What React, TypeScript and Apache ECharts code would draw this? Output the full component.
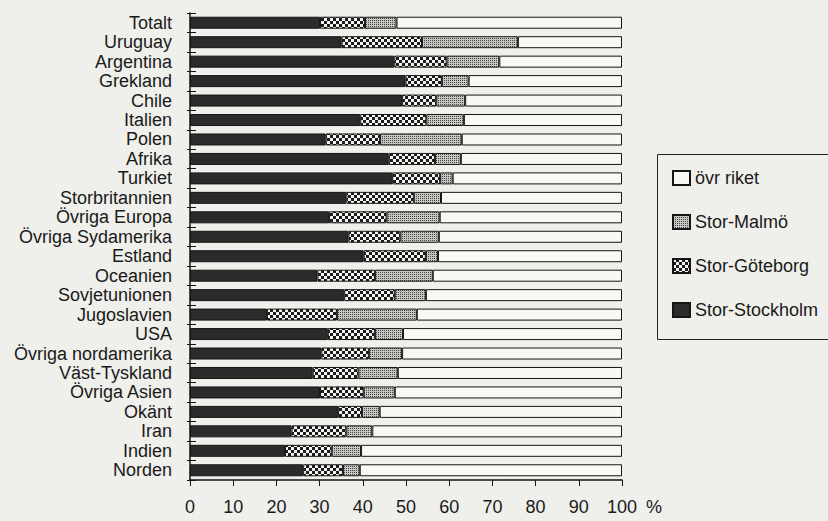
import React, { useEffect, useRef } from "react";
import * as echarts from "echarts";

const categories = [
  "Totalt", "Uruguay", "Argentina", "Grekland", "Chile", "Italien", "Polen", "Afrika",
  "Turkiet", "Storbritannien", "Övriga Europa", "Övriga Sydamerika", "Estland", "Oceanien",
  "Sovjetunionen", "Jugoslavien", "USA", "Övriga nordamerika", "Väst-Tyskland",
  "Övriga Asien", "Okänt", "Iran", "Indien", "Norden",
];

const storStockholm = [30.1, 35.1, 47.3, 49.9, 49.1, 39.4, 31.4, 46.0, 46.8, 36.2, 32.2, 36.7, 40.2, 29.5, 35.7, 17.8, 31.9, 30.4, 28.4, 30.1, 34.3, 23.5, 22.0, 26.2];
const storGoteborg = [10.4, 18.6, 12.1, 8.4, 7.9, 15.3, 12.6, 10.7, 11.1, 15.6, 13.3, 12.0, 14.4, 13.3, 11.7, 16.2, 10.9, 11.0, 10.6, 10.1, 5.5, 12.7, 10.8, 9.2];
const storMalmo = [7.3, 22.2, 12.2, 6.2, 6.7, 8.7, 18.9, 6.0, 2.9, 6.3, 12.3, 8.9, 2.8, 13.4, 7.2, 18.5, 6.5, 7.7, 9.1, 7.2, 4.1, 6.0, 6.8, 3.9];
const ovrRiket = [52.2, 24.1, 28.4, 35.5, 36.3, 36.6, 37.1, 37.3, 39.2, 41.9, 42.2, 42.4, 42.6, 43.8, 45.4, 47.5, 50.7, 50.9, 51.9, 52.6, 56.1, 57.8, 60.4, 60.7];

const xTicks = [0, 10, 20, 30, 40, 50, 60, 70, 80, 90, 100];

function makeCheck(): HTMLCanvasElement {
  const c = document.createElement("canvas");
  c.width = 6;
  c.height = 6;
  const g = c.getContext("2d")!;
  g.fillStyle = "#1c1c1c";
  g.fillRect(0, 0, 6, 6);
  g.fillStyle = "#f4f4f0";
  g.fillRect(0, 0, 3, 3);
  g.fillRect(3, 3, 3, 3);
  return c;
}

function makeStipple(): HTMLCanvasElement {
  const c = document.createElement("canvas");
  c.width = 2;
  c.height = 2;
  const g = c.getContext("2d")!;
  g.fillStyle = "#c6c6c2";
  g.fillRect(0, 0, 2, 2);
  g.fillStyle = "#444444";
  g.fillRect(0, 0, 1, 1);
  return c;
}

export default function App() {
  const ref = useRef<HTMLDivElement>(null);

  useEffect(() => {
    document.body.style.margin = "0";
    document.body.style.background = "#efefeb";
    const chart = echarts.init(ref.current!, null, { renderer: "svg" });
    const check = makeCheck();
    const stipple = makeStipple();
    const font = "'Liberation Sans', Arial, Helvetica, sans-serif";
    const textColor = "#1a1a1a";
    const border = { borderColor: "#151515", borderWidth: 1 };

    const mk = (name: string, data: number[], color: any) => ({
      name,
      type: "bar",
      stack: "all",
      barWidth: 12,
      data,
      itemStyle: { color, ...border },
      emphasis: { disabled: true },
    });

    chart.setOption({
      animation: false,
      backgroundColor: "#efefeb",
      textStyle: { fontFamily: font, color: textColor },
      grid: { left: 190, right: 206, top: 13, bottom: 41 },
      legend: {
        orient: "vertical",
        left: 672,
        top: 168,
        data: ["övr riket", "Stor-Malmö", "Stor-Göteborg", "Stor-Stockholm"],
        itemWidth: 17,
        itemHeight: 14,
        itemGap: 24,
        icon: "rect",
        padding: 0,
        textStyle: { fontFamily: font, fontSize: 18, color: textColor, lineHeight: 20 },
        selectedMode: false,
      },
      xAxis: {
        type: "value",
        min: 0,
        max: 100,
        interval: 10,
        axisLine: { show: true, lineStyle: { color: "#151515", width: 1.5 } },
        axisTick: { show: true, length: 6, lineStyle: { color: "#151515" } },
        splitLine: { show: false },
        axisLabel: {
          fontFamily: font,
          fontSize: 18,
          color: textColor,
          margin: 18,
          formatter: (v: number) => (xTicks.includes(v) ? String(v) : ""),
        },
      },
      yAxis: [
        {
          type: "category",
          inverse: true,
          data: categories,
          axisLine: { show: true, lineStyle: { color: "#151515", width: 1.5 } },
          axisTick: { show: true, interval: 0, length: 3, lineStyle: { color: "#151515" } },
          axisLabel: { interval: 0, fontFamily: font, fontSize: 18, color: textColor, margin: 18 },
        },
        {
          type: "category",
          inverse: true,
          position: "left",
          data: categories,
          axisLine: { show: false },
          axisTick: { show: true, interval: 0, inside: true, length: 6, lineStyle: { color: "#151515" } },
          axisLabel: { show: false, interval: 0 },
        },
      ],
      series: [
        mk("Stor-Stockholm", storStockholm, "#2b2b2b"),
        mk("Stor-Göteborg", storGoteborg, { image: check, repeat: "repeat", imageWidth: 6, imageHeight: 6 }),
        mk("Stor-Malmö", storMalmo, { image: stipple, repeat: "repeat", imageWidth: 2, imageHeight: 2 }),
        mk("övr riket", ovrRiket, "#f8f8f5"),
      ],
      graphic: [
        {
          type: "rect",
          left: 655,
          top: 152,
          shape: { width: 220, height: 185 },
          style: { fill: "none", stroke: "#222", lineWidth: 1 },
          silent: true,
        },
        {
          type: "text",
          left: 646,
          top: 498,
          style: { text: "%", fontFamily: font, fontSize: 18, fill: textColor },
        },
      ],
    });
    return () => chart.dispose();
  }, []);

  return <div ref={ref} style={{ width: 828, height: 521 }} />;
}
